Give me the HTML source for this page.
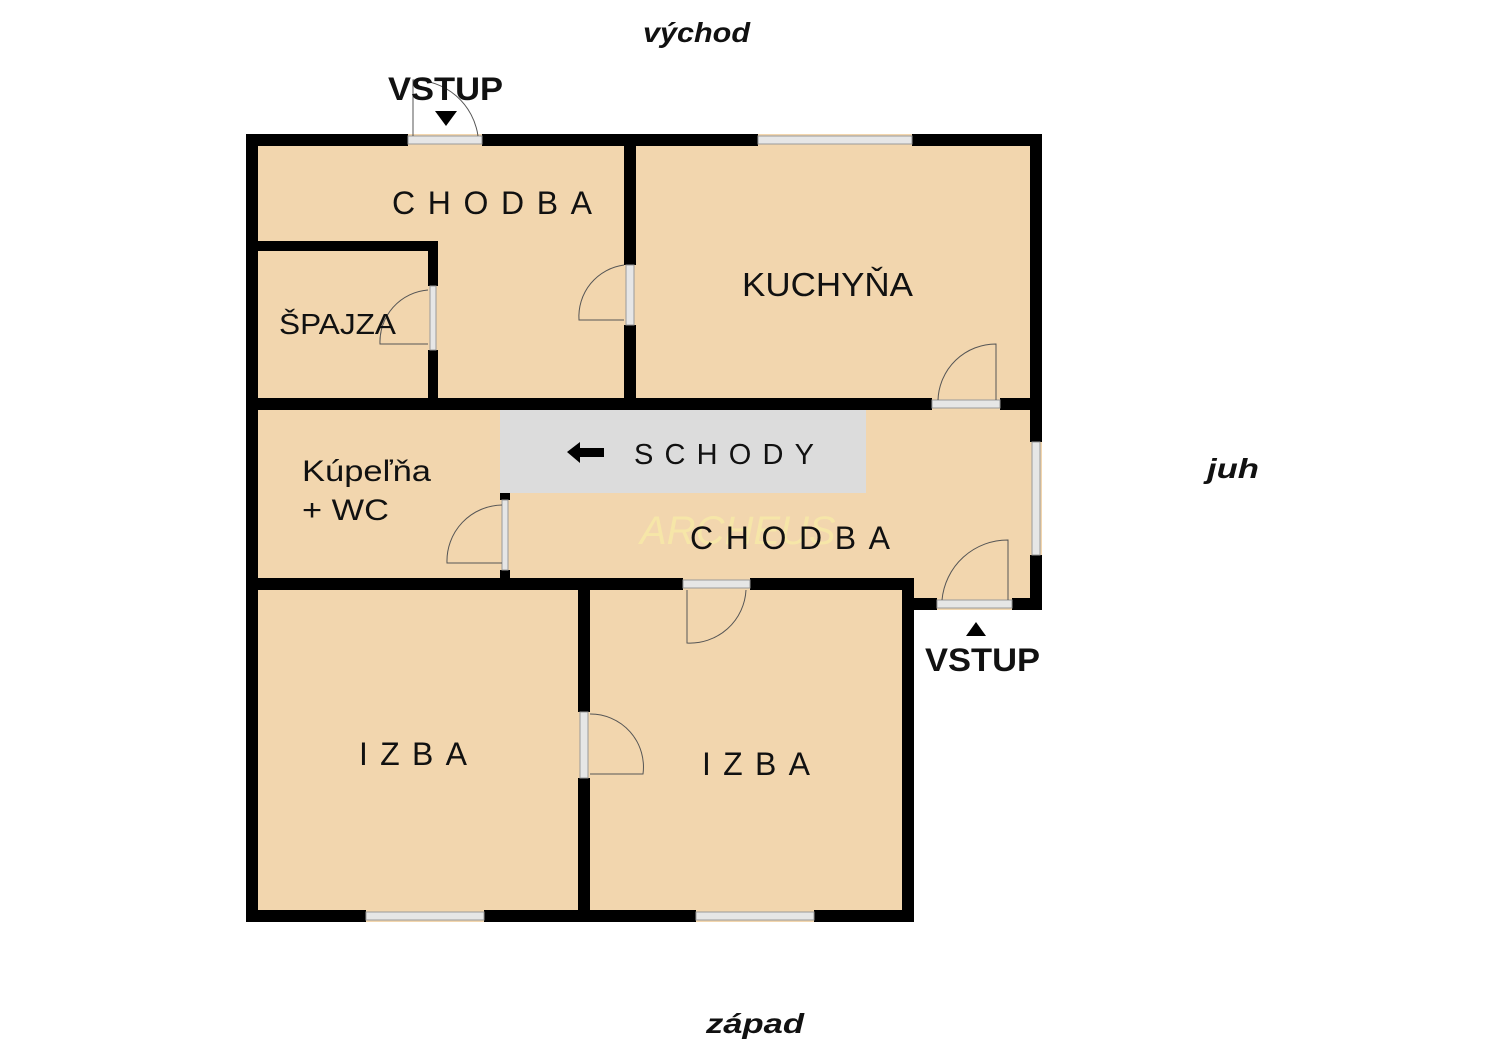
<!DOCTYPE html>
<html><head><meta charset="utf-8"><style>
html,body{margin:0;padding:0;background:#fff;}
svg{display:block}
text{font-family:"Liberation Sans",sans-serif;fill:#111}
</style></head><body>
<svg width="1500" height="1060" viewBox="0 0 1500 1060" xmlns="http://www.w3.org/2000/svg">
<g fill="#f2d6ae">
<rect x="246" y="134" width="796" height="276"/>
<rect x="246" y="398" width="796" height="212"/>
<rect x="246" y="578" width="668" height="344"/>
</g>
<rect x="500" y="410" width="366" height="83" fill="#dcdcdc"/>
<g fill="#000">
<rect x="246" y="134" width="162" height="12"/>
<rect x="482" y="134" width="276" height="12"/>
<rect x="912" y="134" width="130" height="12"/>
<rect x="246" y="134" width="12" height="788"/>
<rect x="1030" y="134" width="12" height="308"/>
<rect x="1030" y="555" width="12" height="55"/>
<rect x="912" y="598" width="25" height="12"/>
<rect x="1012" y="598" width="30" height="12"/>
<rect x="902" y="578" width="12" height="344"/>
<rect x="246" y="910" width="120" height="12"/>
<rect x="484" y="910" width="212" height="12"/>
<rect x="814" y="910" width="100" height="12"/>
<rect x="624" y="134" width="12" height="131"/>
<rect x="624" y="325" width="12" height="85"/>
<rect x="246" y="398" width="686" height="12"/>
<rect x="1000" y="398" width="42" height="12"/>
<rect x="246" y="241" width="192" height="10"/>
<rect x="428" y="241" width="10" height="45"/>
<rect x="428" y="350" width="10" height="60"/>
<rect x="500" y="493" width="10" height="7"/>
<rect x="500" y="570" width="10" height="12"/>
<rect x="246" y="578" width="437" height="12"/>
<rect x="750" y="578" width="164" height="12"/>
<rect x="578" y="578" width="12" height="134"/>
<rect x="578" y="778" width="12" height="144"/>
</g>
<g fill="#e6e6e6" stroke="#999" stroke-width="1">
<rect x="408" y="136" width="74" height="8"/>
<rect x="758" y="136" width="154" height="8"/>
<rect x="1032" y="442" width="8" height="113"/>
<rect x="937" y="600" width="75" height="8"/>
<rect x="366" y="912" width="118" height="8"/>
<rect x="696" y="912" width="118" height="8"/>
<rect x="626" y="265" width="8" height="60"/>
<rect x="430" y="286" width="6" height="64"/>
<rect x="932" y="400" width="68" height="8"/>
<rect x="502" y="500" width="6" height="70"/>
<rect x="683" y="580" width="67" height="8"/>
<rect x="580" y="712" width="8" height="66"/>
</g>
<g fill="none" stroke="#555" stroke-width="1">
<path d="M413 136 V80 A65 65 0 0 1 478 136"/>
<path d="M624 265 A52 52 0 0 0 579 320 H624"/>
<path d="M428 290 A52 52 0 0 0 380 344 H428"/>
<path d="M996 400 V344 A58 58 0 0 0 938 400"/>
<path d="M502 505 A56 56 0 0 0 447 563 H502"/>
<path d="M687 590 V643 A56 56 0 0 0 746 590"/>
<path d="M590 714 A53 53 0 0 1 643 774 H590"/>
<path d="M1008 600 V540 A66 66 0 0 0 942 600"/>
</g>
<polygon points="435,111 457,111 446,126" fill="#000"/>
<polygon points="966,636 986,636 976,622" fill="#000"/>
<polygon points="567,452 580,442 580,448 604,448 604,457 580,457 580,463" fill="#000"/>
<text x="643" y="42" font-size="28" font-weight="bold" font-style="italic" textLength="107" lengthAdjust="spacingAndGlyphs">východ</text>
<text x="706" y="1033" font-size="28" font-weight="bold" font-style="italic" textLength="98" lengthAdjust="spacingAndGlyphs">západ</text>
<text x="1207" y="478" font-size="28" font-weight="bold" font-style="italic" textLength="52" lengthAdjust="spacingAndGlyphs">juh</text>
<text x="388" y="100" font-size="32" font-weight="bold" textLength="115" lengthAdjust="spacingAndGlyphs">VSTUP</text>
<text x="925" y="671" font-size="32" font-weight="bold" textLength="115" lengthAdjust="spacingAndGlyphs">VSTUP</text>
<text x="392" y="214" font-size="32" textLength="200" lengthAdjust="spacing">CHODBA</text>
<text x="742" y="296" font-size="33" textLength="171" lengthAdjust="spacingAndGlyphs">KUCHYŇA</text>
<text x="279" y="334" font-size="29" textLength="117" lengthAdjust="spacingAndGlyphs">ŠPAJZA</text>
<text x="634" y="464" font-size="29" textLength="180" lengthAdjust="spacing">SCHODY</text>
<text x="302" y="481" font-size="30" textLength="129" lengthAdjust="spacingAndGlyphs">Kúpeľňa</text>
<text x="302" y="520" font-size="30" textLength="87" lengthAdjust="spacingAndGlyphs">+ WC</text>
<text x="640" y="544" font-size="40" font-style="italic" font-family="Liberation Serif" style="fill:#f6e6a8">ARCHEUS</text>
<text x="690" y="549" font-size="32" textLength="200" lengthAdjust="spacing">CHODBA</text>
<text x="359" y="765" font-size="32" textLength="108" lengthAdjust="spacing">IZBA</text>
<text x="702" y="775" font-size="32" textLength="108" lengthAdjust="spacing">IZBA</text>
</svg>
</body></html>
